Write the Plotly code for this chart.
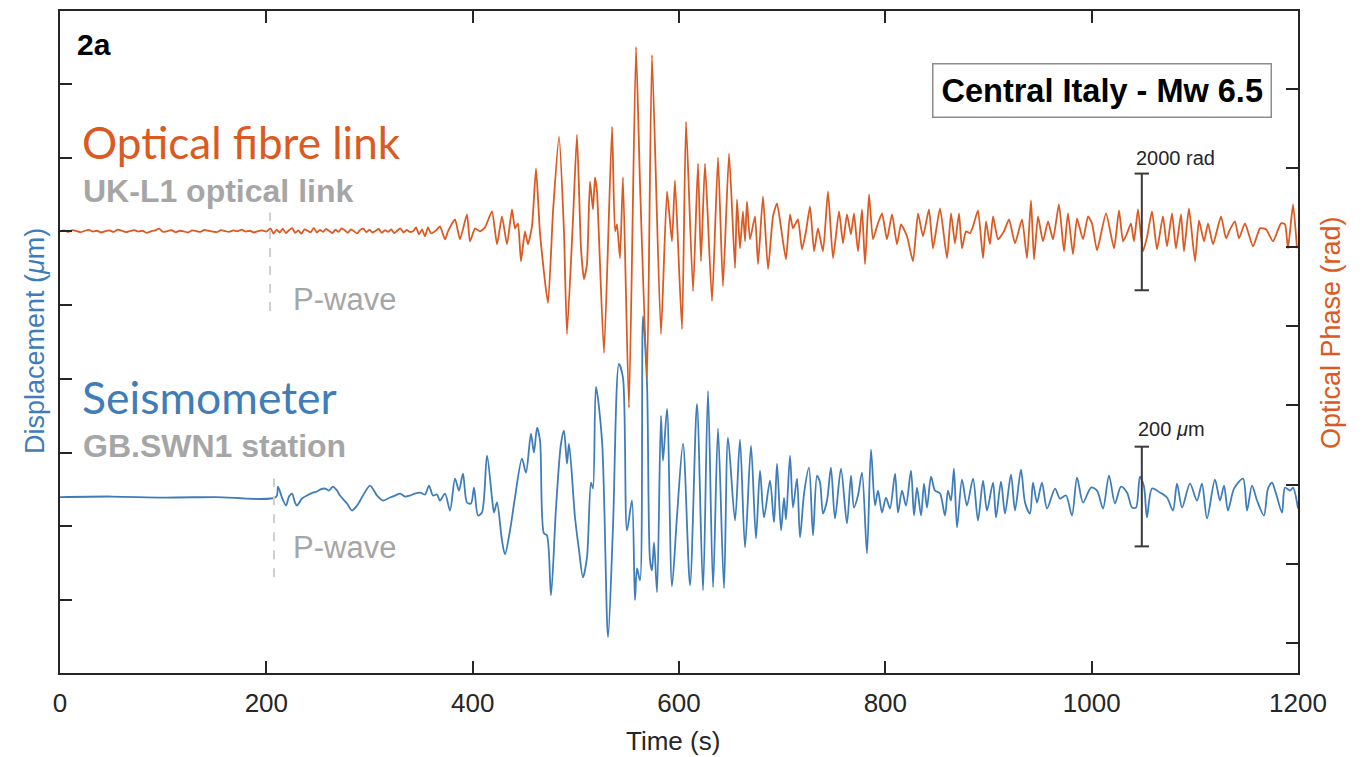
import plotly.graph_objects as go

# ---------------- data ----------------
# Optical fibre link: time (s) and optical phase (rad)
ORANGE_T = [
    0, 4, 8, 12, 16, 20, 24, 28, 32, 36, 40, 44, 48, 52, 56, 60, 64, 68, 72, 76,
    80, 84, 88, 92, 96, 100, 104, 108, 112, 116, 120, 124, 128, 132, 136, 140, 144, 148, 152, 156,
    160, 164, 168, 172, 176, 180, 184, 188, 192, 196, 200,
    204, 207, 210, 213, 216, 219, 222, 225, 228, 231, 234, 237, 240, 243, 246, 249, 252, 255, 258, 261,
    264, 267, 270, 273, 276, 279, 282, 285, 288, 291, 294, 297, 300, 303, 306, 309, 312, 315, 318, 321,
    324, 327, 330, 333, 336, 339,
    342.2, 345.1, 348.0, 350.9, 353.8, 356.7, 359.6, 364.5, 368.3, 373.2,
    376.1, 382.9, 387.7, 394.5, 397.4, 402.3, 407.1, 412.0, 418.7, 423.6,
    428.4, 433.3, 438.1, 441.0, 443.9, 446.8, 450.7, 453.6, 457.5, 461.4,
    465.3, 473.0, 477.9, 483.7, 488.5, 491.4, 497.3, 501.1, 505.0, 507.9,
    510.8, 513.7, 516.6, 518.6, 520.5, 527.3, 535.1, 538.0, 539.9, 542.8,
    545.7, 551.5, 558.3, 562.2, 569.0, 573.8, 582.5, 588.4, 593.2, 596.1,
    602.9, 606.8, 613.6, 618.4, 621.3, 625.2, 632.0, 637.8, 642.6, 648.5,
    654.3, 656.2, 659.1, 662.0, 664.0, 665.9, 668.8, 673.7, 676.6, 681.4,
    686.3, 691.1, 695.0, 699.8, 703.7, 707.6, 710.5, 715.3, 719.2, 723.1,
    727.0, 730.9, 734.7, 739.6, 744.4, 749.3, 755.1, 759.0, 762.8, 766.7,
    769.6, 773.5, 777.4, 780.3, 784.2, 788.0, 791.9, 796.8, 801.6, 806.5,
    811.3, 815.2, 821.0, 826.8, 831.7, 836.5, 842.3, 846.2, 853.0, 859.8,
    863.7, 867.5, 871.4, 874.3, 878.2, 882.1, 885.0, 889.8, 894.7, 897.6,
    901.4, 904.4, 909.2, 915.0, 919.9, 925.7, 932.5, 937.3, 941.2, 944.1,
    948.0, 952.8, 957.7, 962.5, 968.3, 973.2, 977.0, 981.9, 985.8, 991.6,
    996.5, 1000.3, 1005.2, 1013.9, 1021.7, 1026.5, 1030.4, 1034.3, 1038.1, 1041.0,
    1044.9, 1049.8, 1053.6, 1058.5, 1063.3, 1069.1, 1073.0, 1077.9, 1081.7, 1086.6,
    1089.5, 1094.3, 1100.2, 1104.0, 1108.9, 1112.8, 1117.6, 1125.4, 1130.2, 1134.1,
    1138.9, 1142.8, 1148.6, 1156.4, 1163.2, 1169.0, 1175.8, 1183.5, 1187.4, 1190.3,
    1195.2, 1199.0,
]
ORANGE_V = [
    0, 15, -10, 20, 5, -15, 10, 25, -5, 10, -20, 5, 15, -10, 30, 10, -15, 5, 20, -5,
    10, -25, 0, 15, 45, -10, 5, 20, -15, 10, 0, -20, 15, 5, -10, 25, 10, -5, -15, 20,
    5, -10, 15, 0, 30, -5, 10, -20, 5, 15, -5,
    50, -40, 30, -20, 45, -30, 20, 55, -25, 15, -40, 35, 10, -15, 60, -20, 25, -10, 40, 5,
    -30, 30, -10, 50, 20, -25, 35, 0, -35, 25, 45, -15, 30, -20, 10, 40, -25, 20, -10, 35,
    -30, 15, 50, -20, 25, -10,
    0, 68, -51, 34, -85, 68, -34, 17, 85, -137,
    0, 205, -137, 291, -171, 51, 0, 68, 342, -222,
    256, -222, 376, 51, 137, -513, 0, -222, 85, 1077,
    -34, -1230, 342, 1624, 0, -1760, 222, 1658, -291, -820,
    -564, 855, 376, 923, 684, -2085, 1794, 0, 120, -461,
    923, -3025, 3162, 820, -2529, 3025, -1760, 684, -171, 872,
    -1675, 1880, -1025, 1162, -513, 1162, -1196, 1265, -940, 1333,
    -632, 547, -291, 342, -171, 513, -137, 256, -564, 598,
    -649, 256, 479, -51, -479, 291, 51, 205, -308, 0,
    427, -342, 51, -342, 684, -461, 342, -205, 291, -51,
    308, -342, 376, -564, 632, -137, 85, 308, -137, 291,
    -222, 120, -85, -513, 308, -85, 376, -291, 393, -461,
    308, -205, 308, -291, 0, -34, 85, 359, -461, 171,
    -222, 256, -137, 0, 205, -205, 205, -461, 530, -479,
    256, -171, 171, -137, 461, -342, 308, -393, 222, -137,
    256, 137, -325, 308, -291, 359, -171, -34, 137, -171,
    376, -342, -103, 342, -308, 256, -256, 308, -291, 291,
    -342, 393, -513, 188, -171, 137, -222, 256, -120, 34,
    171, -120, 137, -256, 51, 34, -171, 137, 120, -291,
    461, -291,
]

# Seismometer GB.SWN1: time (s) and displacement (um)
BLUE_T = [
    0, 50, 100, 150, 209.4, 211.3, 215.2, 219.1, 222.0, 224.9,
    227.8, 229.7, 234.6, 239.4, 245.2, 249.1, 252.0, 256.9, 260.7, 264.6,
    268.5, 271.4, 278.2, 283.0, 287.9, 293.7, 300.5, 307.3, 313.1, 319.9,
    324.7, 329.6, 334.4, 339.3, 344.1, 349.0, 353.8, 357.7, 361.5, 365.4,
    368.3, 373.2, 378.0, 382.9, 386.7, 390.6, 394.5, 398.4, 401.3, 405.2,
    409.0, 413.9, 418.7, 420.7, 423.6, 428.4, 431.3, 436.2, 441.0, 447.8,
    451.7, 456.5, 459.4, 462.4, 465.3, 469.1, 472.0, 475.9, 480.8, 485.6,
    488.5, 491.4, 493.4, 499.2, 503.1, 506.9, 510.8, 514.7, 516.6, 519.5,
    525.4, 531.2, 536.0, 541.8, 545.7, 549.6, 554.4, 557.3, 559.3, 562.2,
    565.1, 569.0, 571.9, 573.8, 575.8, 578.7, 582.5, 584.5, 588.4, 593.2,
    598.1, 603.9, 610.7, 617.4, 623.3, 628.1, 633.0, 637.8, 643.6, 647.5,
    654.3, 659.1, 664.0, 669.8, 674.6, 678.5, 682.4, 688.2, 692.1, 695.0,
    698.9, 701.8, 703.7, 707.6, 710.5, 714.4, 717.3, 721.2, 726.0, 729.9,
    733.8, 736.7, 739.6, 743.5, 747.3, 751.2, 757.0, 762.8, 766.7, 769.6,
    773.5, 777.4, 782.2, 786.1, 790.0, 792.9, 796.8, 800.6, 804.5, 809.4,
    812.3, 816.2, 820.0, 824.9, 827.8, 830.7, 834.6, 837.5, 840.4, 844.3,
    848.1, 853.0, 857.8, 860.7, 863.6, 866.5, 869.5, 874.3, 879.1, 885.0,
    889.8, 894.7, 898.5, 904.4, 907.3, 912.1, 916.0, 921.8, 925.7, 931.5,
    935.4, 940.2, 943.1, 947.0, 951.8, 956.7, 964.5, 969.3, 975.1, 980.9,
    985.8, 991.6, 999.4, 1005.2, 1011.0, 1016.8, 1022.6, 1028.4, 1034.3, 1039.1,
    1043.0, 1046.8, 1050.7, 1053.6, 1058.5, 1066.2, 1073.0, 1078.8, 1082.7, 1087.6,
    1095.3, 1102.1, 1106.9, 1111.8, 1119.5, 1124.4, 1128.3, 1132.1, 1138.0, 1146.7,
    1150.6, 1155.4, 1160.3, 1167.0, 1170.9, 1174.8, 1178.7, 1184.5, 1187.4, 1192.2,
    1195.2, 1200.0,
]
BLUE_V = [
    0, 1, -1, 0, 0, 21, -1, -17, 1, 7,
    -11, -17, -3, 3, 9, 11, 15, 17, 13, 21,
    13, 3, -13, -27, -17, 3, 23, 3, -7, -1,
    3, 7, 1, 3, 7, 9, 5, 23, 3, 5,
    -7, 7, -27, 37, 13, 47, -11, -13, 19, -37,
    -31, 83, -1, -31, -11, -87, -115, -67, -1, 77,
    49, 127, 89, 139, 113, -73, -77, -197, -21, 107,
    133, 67, 107, -41, -107, -161, -121, 29, 17, 221,
    113, -281, -61, 267, 239, -67, -7, -207, -143, -167,
    363, 227, -127, -147, -91, -191, 163, 73, 177, -179,
    -37, 107, -177, 187, -187, 213, -181, 137, -183, 119,
    -47, 115, -101, 103, -83, 53, -41, 33, -51, 67,
    -67, -1, -45, 83, -21, 37, -81, 7, 59, -77,
    43, 29, -33, -7, 59, -43, 57, -53, 43, -21,
    3, 49, -113, 95, -17, 13, -31, -1, -23, 47,
    -31, 13, -17, 53, -37, 19, -37, 27, -21, 41,
    13, 7, -37, 13, -7, 57, -61, 35, -17, 37,
    -47, 33, -27, 29, -41, 31, -33, 45, -27, 55,
    -11, -33, 29, -11, 29, -23, 17, -3, 3, -37,
    39, -11, 19, 13, -23, 43, -13, 21, 9, -21,
    -21, 41, 21, -41, 17, 9, -1, -27, 27, -21,
    27, -7, 27, -43, 35, -7, 23, -27, 17, 37,
    -27, 23, -7, -37, 17, 29, 7, -31, 19, 13,
    19, -23,
]

X_TICKS = [0, 200, 400, 600, 800, 1000, 1200]
P_WAVE_T = [203.6, 207.4]          # orange, blue P-wave arrival (s)
SCALE_T = 1048.6                    # scale-bar position (s)
SCALE_RAD = [-1010, 990]            # 2000 rad
SCALE_UM = [-99, 101]               # 200 um

ORANGE = "#DB5A22"
BLUE = "#3F7DB9"
GREY = "#A6A6A6"
DARK = "#262626"
SANS = "Liberation Sans, Arial, sans-serif"

fig = go.Figure()
fig.add_trace(go.Scatter(x=BLUE_T, y=BLUE_V, mode="lines", yaxis="y",
                         line=dict(color=BLUE, width=1.8, shape="spline", smoothing=0.8),
                         hoverinfo="skip"))
fig.add_trace(go.Scatter(x=ORANGE_T, y=ORANGE_V, mode="lines", yaxis="y2",
                         line=dict(color=ORANGE, width=1.8, shape="spline", smoothing=0.5),
                         hoverinfo="skip"))

shapes = []
# P-wave dashed markers
shapes.append(dict(type="line", xref="x", yref="y2", x0=P_WAVE_T[0], x1=P_WAVE_T[0],
                   y0=-1367, y1=325, line=dict(color="#CFCFCF", width=2, dash="dash")))
shapes.append(dict(type="line", xref="x", yref="y", x0=P_WAVE_T[1], x1=P_WAVE_T[1],
                   y0=-161, y1=37, line=dict(color="#CFCFCF", width=2, dash="dash")))
# scale bars
for yref, (lo, hi) in (("y2", SCALE_RAD), ("y", SCALE_UM)):
    shapes.append(dict(type="line", xref="x", yref=yref, x0=SCALE_T, x1=SCALE_T, y0=lo, y1=hi,
                       line=dict(color="#3A3A3A", width=2)))
    for yy in (lo, hi):
        shapes.append(dict(type="line", xref="x", yref=yref, x0=SCALE_T - 7, x1=SCALE_T + 7,
                           y0=yy, y1=yy, line=dict(color="#3A3A3A", width=2)))

ann = []
def add(text, x, y, size, color, xanchor="left", bold=False, family=SANS, **kw):
    ann.append(dict(text=f"<b>{text}</b>" if bold else text, x=x, y=y, xref="paper", yref="paper",
                    xanchor=xanchor, yanchor="middle", showarrow=False,
                    font=dict(size=size, color=color, family=family), **kw))

def px(xp):
    return (xp - 60) / 1238
def py(yp):
    return (673 - yp) / 664

add("2a", px(75), py(43), 30, "#000000", bold=True)
add("Central Italy - Mw 6.5", px(1102), py(89), 32.5, "#000000", xanchor="center", bold=True,
    bordercolor="#8C8C8C", borderwidth=1.5, borderpad=8, bgcolor="white")
add("Optical fibre link", px(80), py(140), 44, ORANGE, family="Lato, Calibri, sans-serif")
add("UK-L1 optical link", px(81), py(190), 32, GREY, bold=True)
add("Seismometer", px(80), py(396), 44.5, BLUE, family="Lato, Calibri, sans-serif")
add("GB.SWN1 station", px(81), py(445), 32, GREY, bold=True)
add("P-wave", px(291), py(298), 31, GREY)
add("P-wave", px(291), py(547), 31, GREY)
add("2000 rad", px(1175), py(156), 20, DARK, xanchor="center")
add("200 <i>μ</i>m", px(1171), py(428), 20, DARK, xanchor="center")
add("Time (s)", px(673), py(741), 26, DARK, xanchor="center")
add("Displacement (<i>μ</i>m)", px(35), py(340), 27, BLUE, xanchor="center", textangle=-90)
add("Optical Phase (rad)", px(1331), py(332), 27, ORANGE, xanchor="center", textangle=-90)

axis_common = dict(showgrid=False, zeroline=False, showline=True, linecolor=DARK, linewidth=1.5,
                   ticks="inside", ticklen=12, tickwidth=1.5, tickcolor=DARK)

fig.update_layout(
    width=1364, height=757,
    margin=dict(l=60, r=66, t=9, b=84),
    plot_bgcolor="white", paper_bgcolor="white",
    showlegend=False,
    xaxis=dict(range=[0, 1200], tickmode="array", tickvals=X_TICKS,
               ticktext=[str(v) for v in X_TICKS], mirror="ticks",
               tickfont=dict(size=26, color=DARK, family=SANS), ticklabelstandoff=6,
               **axis_common),
    yaxis=dict(range=[-353, 975], tickmode="linear", tick0=829, dtick=148,
               showticklabels=False, **axis_common),
    yaxis2=dict(range=[-7571, 3777], tickmode="linear", tick0=2444, dtick=1357,
                overlaying="y", side="right", showticklabels=False, **axis_common),
    shapes=shapes,
    annotations=ann,
)

fig.write_html("out.html", config={"displayModeBar": False},
               post_script="document.body.style.margin='0';document.body.style.overflow='hidden';")
